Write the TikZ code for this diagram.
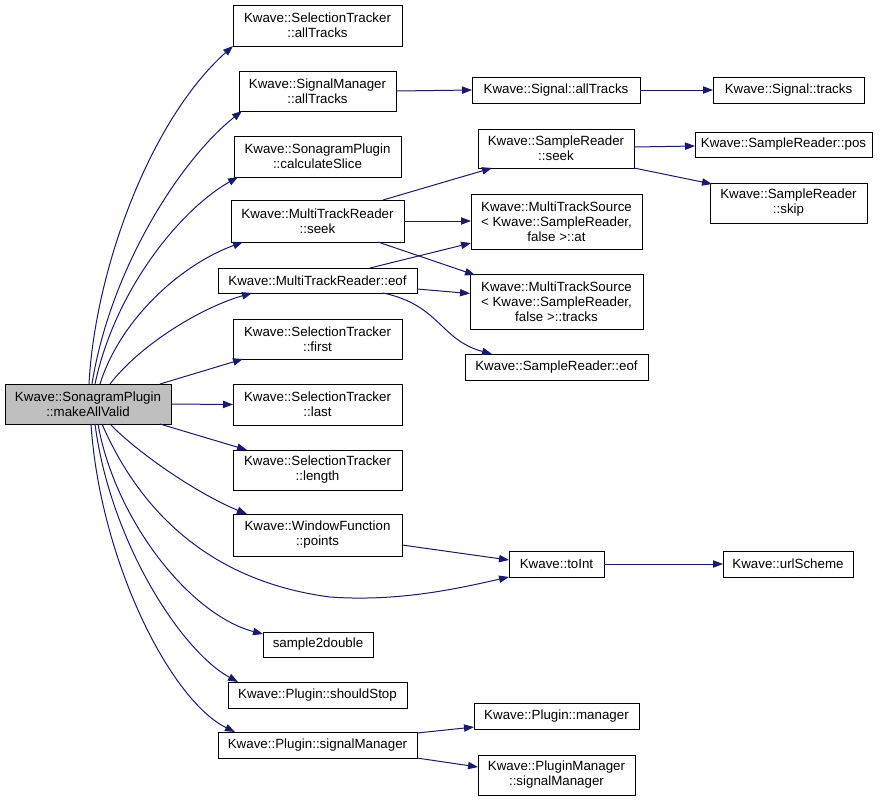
\documentclass[tikz,border=0pt]{standalone}
\usepackage{fontspec}
\setmainfont{Liberation Sans}
\usetikzlibrary{arrows.meta,calc}
\definecolor{edgec}{HTML}{191970}
\definecolor{rootfill}{HTML}{BFBFBF}
\tikzset{
  box/.style={draw=black, line width=0.75pt, fill=white, inner sep=0pt, outer sep=0pt, align=center,
    font=\fontsize{10}{11.25}\selectfont},
  rootbox/.style={fill=rootfill},
  call/.style={draw=edgec, line width=0.75pt, -{Triangle[length=7.5pt,width=5.5pt]}},
}
\newcommand\bnode[7][]{\node[box,#1,minimum width={(#5-#3)*0.75pt},minimum height={(#6-#4)*0.75pt}] (#2) at ({(#3+#5)/2},{(#4+#6)/2}) {#7};}
\begin{document}
\begin{tikzpicture}[x=0.75pt,y=-0.75pt]
\useasboundingbox (0,0) rectangle (887,801);
% nodes
\bnode[rootbox]{root}{5}{384}{171}{424}{Kwave::SonagramPlugin\\::makeAllValid}
\bnode{stall}{233}{5}{402}{46}{Kwave::SelectionTracker\\::allTracks}
\bnode{small}{239}{71}{396}{111}{Kwave::SignalManager\\::allTracks}
\bnode{calc}{234}{136}{401}{177}{Kwave::SonagramPlugin\\::calculateSlice}
\bnode{seek}{231}{200}{404}{242}{Kwave::MultiTrackReader\\::seek}
\bnode{eof}{218}{268}{417}{293}{Kwave::MultiTrackReader::eof}
\bnode{first}{233}{319}{402}{359}{Kwave::SelectionTracker\\::first}
\bnode{last}{233}{384}{402}{425}{Kwave::SelectionTracker\\::last}
\bnode{length}{233}{450}{402}{490}{Kwave::SelectionTracker\\::length}
\bnode{wf}{233}{514}{402}{556}{Kwave::WindowFunction\\::points}
\bnode{s2d}{263}{632}{373}{657}{sample2double}
\bnode{stop}{228}{682}{407}{708}{Kwave::Plugin::shouldStop}
\bnode{psm}{218}{732}{417}{758}{Kwave::Plugin::signalManager}
\bnode{sall}{472}{77}{640}{103}{Kwave::Signal::allTracks}
\bnode{stracks}{713}{77}{864}{103}{Kwave::Signal::tracks}
\bnode{srseek}{478}{129}{634}{168}{Kwave::SampleReader\\::seek}
\bnode{pos}{695}{132}{872}{157}{Kwave::SampleReader::pos}
\bnode{skip}{710}{183}{867}{223}{Kwave::SampleReader\\::skip}
\bnode{at}{471}{194}{642}{249}{Kwave::MultiTrackSource\\< Kwave::SampleReader,\\false >::at}
\bnode{mtracks}{470}{274}{643}{329}{Kwave::MultiTrackSource\\< Kwave::SampleReader,\\false >::tracks}
\bnode{sreof}{465}{354}{648}{380}{Kwave::SampleReader::eof}
\bnode{toint}{509}{551}{604}{577}{Kwave::toInt}
\bnode{url}{723}{551}{853}{577}{Kwave::urlScheme}
\bnode{pman}{474}{703}{639}{729}{Kwave::Plugin::manager}
\bnode{pmsm}{478}{755}{635}{795}{Kwave::PluginManager\\::signalManager}
% edges from root (top)
\draw[call] ($(root.north west)+(84,0)$) .. controls (95,270) and (150,120) .. (stall.south west);
\draw[call] ($(root.north west)+(87,0)$) .. controls (110,270) and (180,160) .. ($(small.south west)+(3,0)$);
\draw[call] ($(root.north west)+(90,0)$) .. controls (115,290) and (180,210) .. ($(calc.south west)+(4,0)$);
\draw[call] ($(root.north west)+(95,0)$) .. controls (120,320) and (180,265) .. ($(seek.south west)+(12,0)$);
\draw[call] ($(root.north west)+(105,0)$) .. controls (140,345) and (200,308) .. ($(eof.south west)+(34,0)$);
\draw[call] ($(root.north west)+(155,0)$) -- ($(first.south west)+(10,0)$);
\draw[call] (root.east) -- (last.west);
% edges from root (bottom)
\draw[call] ($(root.south west)+(155,0)$) -- ($(length.north west)+(14,0)$);
\draw[call] ($(root.south west)+(105,0)$) .. controls (140,455) and (200,495) .. ($(wf.north west)+(14,0)$);
\draw[call] ($(root.south west)+(97,0)$) .. controls (135,500) and (200,580) .. (330,597) .. controls (400,602) and (460,588) .. (toint.south west);
\draw[call] ($(root.south west)+(93,0)$) .. controls (115,520) and (190,615) .. ($(s2d.north west)+(0,2)$);
\draw[call] ($(root.south west)+(90,0)$) .. controls (110,540) and (180,650) .. ($(stop.north west)+(10,0)$);
\draw[call] ($(root.south west)+(86,0)$) .. controls (100,560) and (170,700) .. ($(psm.north west)+(17,0)$);
% second level
\draw[call] (small.east) -- (sall.west);
\draw[call] (sall.east) -- (stracks.west);
\draw[call] ($(seek.north west)+(152,0)$) -- ($(srseek.south west)+(14,0)$);
\draw[call] (seek.east) -- (at.west |- seek.east);
\draw[call] ($(seek.south west)+(147,0)$) -- ($(mtracks.north west)+(5,1)$);
\draw[call] ($(eof.north west)+(152,0)$) -- ($(at.south west)+(0,-6)$);
\draw[call] ($(eof.east)+(0,8.5)$) -- ($(mtracks.west)+(0,-8)$);
\draw[call] ($(eof.south west)+(165,0)$) .. controls (440,305) and (440,340) .. ($(sreof.north west)+(27,0)$);
\draw[call] ($(srseek.east)+(0,-1.5)$) -- ($(pos.west)+(0,1.5)$);
\draw[call] (srseek.south east) -- ($(skip.north west)+(2,1)$);
\draw[call] ($(wf.east)+(0,10)$) -- ($(toint.west)+(0,-4)$);
\draw[call] (toint.east) -- (url.west);
\draw[call] ($(psm.north east)+(0,1)$) -- ($(pman.south west)+(0,-2)$);
\draw[call] (psm.south east) -- ($(pmsm.west)+(0,-8)$);
\end{tikzpicture}
\end{document}
